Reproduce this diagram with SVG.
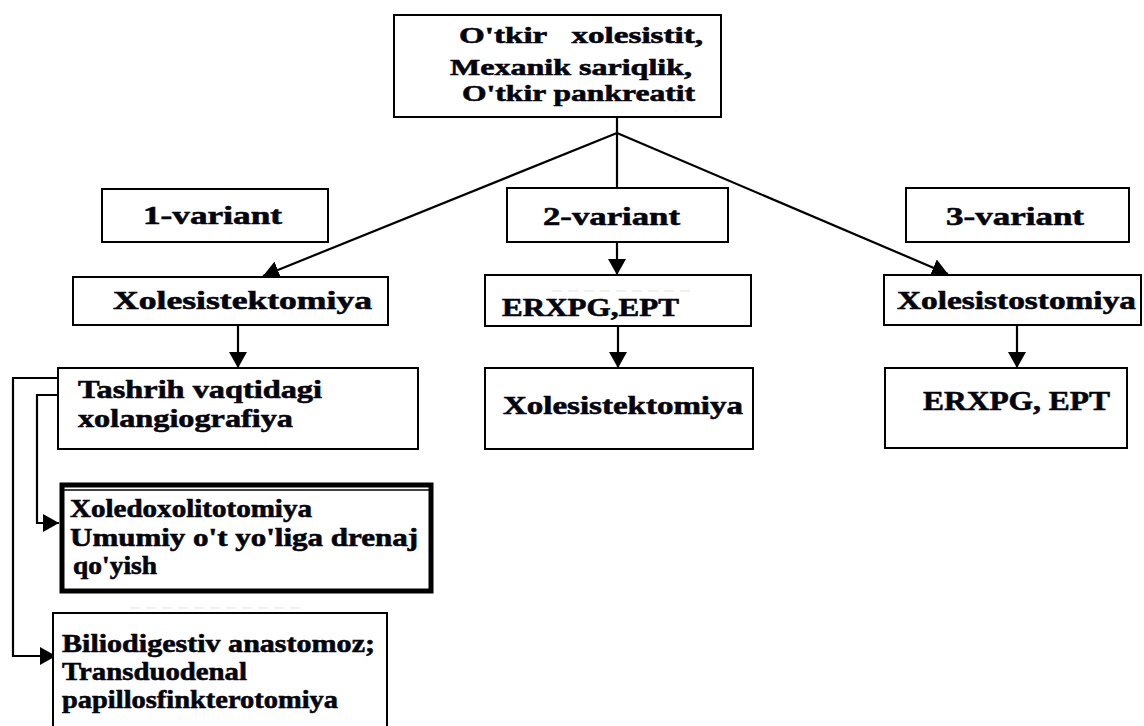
<svg xmlns="http://www.w3.org/2000/svg" width="1144" height="726" viewBox="0 0 1144 726">
  <defs>
    <marker id="arrow" viewBox="0 0 16 18" refX="16" refY="9" markerWidth="16" markerHeight="18" markerUnits="userSpaceOnUse" orient="auto">
      <path d="M0,0 L16,9 L0,18 Z" fill="#000"/>
    </marker>
    <style>
      .box { fill: #fff; stroke: #000; stroke-width: 2; }
      .thick { fill: #fff; stroke: #000; stroke-width: 5; }
      .lbl { font-family: "Liberation Serif", "Times New Roman", serif; font-weight: bold; font-size: 26px; fill: #05050f; stroke: #05050f; stroke-width: 0.6; }
      .top { font-size: 24px; }
      .mid { font-size: 25px; }
      .big { font-size: 28px; }
      .line { fill: none; stroke: #000; stroke-width: 2.2; }
      .arr { fill: none; stroke: #000; stroke-width: 2.2; marker-end: url(#arrow); }
      .faint { fill: none; stroke: #e2e2e2; stroke-width: 1.2; stroke-dasharray: 10 6; }
    </style>
  </defs>
  <rect width="1144" height="726" fill="#fff"/>

  <!-- connectors -->
  <g id="connectors">
    <polyline class="line" points="617,117 617,133"/>
    <line class="arr" x1="617" y1="133" x2="263" y2="276"/>
    <line class="arr" x1="617" y1="133" x2="617" y2="275"/>
    <line class="arr" x1="617" y1="133" x2="948" y2="274"/>
    <line class="arr" x1="238" y1="325" x2="238" y2="368"/>
    <line class="arr" x1="618" y1="326" x2="618" y2="368"/>
    <line class="arr" x1="1017" y1="325" x2="1017" y2="368"/>
    <polyline class="arr" points="58,378 13,378 13,656 56,656"/>
    <polyline class="arr" points="58,395 37,395 37,523 59,523"/>
  </g>

  <!-- source node -->
  <g id="n-diagnoz">
    <rect class="box" x="394" y="15" width="327" height="102"/>
    <text class="lbl top" x="459" y="43" textLength="244" lengthAdjust="spacingAndGlyphs" xml:space="preserve">O'tkir   xolesistit,</text>
    <text class="lbl top" x="450" y="75" textLength="242" lengthAdjust="spacingAndGlyphs">Mexanik sariqlik,</text>
    <text class="lbl top" x="462" y="101" textLength="233" lengthAdjust="spacingAndGlyphs">O'tkir pankreatit</text>
  </g>

  <!-- variant headers -->
  <g id="v1">
    <rect class="box" x="102" y="189" width="226" height="53"/>
    <text class="lbl" x="143" y="224" textLength="139" lengthAdjust="spacingAndGlyphs">1-variant</text>
  </g>
  <g id="v2">
    <rect class="box" x="507" y="188" width="221" height="54"/>
    <text class="lbl" x="543" y="225" textLength="137" lengthAdjust="spacingAndGlyphs">2-variant</text>
  </g>
  <g id="v3">
    <rect class="box" x="906" y="188" width="223" height="54"/>
    <text class="lbl" x="946" y="225" textLength="138" lengthAdjust="spacingAndGlyphs">3-variant</text>
  </g>

  <!-- variant 1 -->
  <g id="v1-xolesistektomiya">
    <rect class="box" x="73" y="277" width="315" height="48"/>
    <text class="lbl" x="113" y="309" textLength="259" lengthAdjust="spacingAndGlyphs">Xolesistektomiya</text>
  </g>
  <g id="v1-xolangiografiya">
    <rect class="box" x="58" y="368" width="360" height="81"/>
    <text class="lbl" x="78" y="398" textLength="244" lengthAdjust="spacingAndGlyphs">Tashrih vaqtidagi</text>
    <text class="lbl" x="78" y="427" textLength="215" lengthAdjust="spacingAndGlyphs">xolangiografiya</text>
  </g>
  <g id="v1-xoledoxolitotomiya">
    <rect class="thick" x="62" y="485" width="369" height="106"/>
    <line x1="64" y1="490" x2="429" y2="490" stroke="#000" stroke-width="1.5"/>
    <text class="lbl mid" x="70" y="517" textLength="242" lengthAdjust="spacingAndGlyphs">Xoledoxolitotomiya</text>
    <text class="lbl mid" x="70" y="546" textLength="348" lengthAdjust="spacingAndGlyphs">Umumiy o't yo'liga drenaj</text>
    <text class="lbl mid" x="73" y="574" textLength="84" lengthAdjust="spacingAndGlyphs">qo'yish</text>
  </g>
  <g id="v1-biliodigestiv">
    <rect class="box" x="53" y="613" width="334" height="120"/>
    <line class="faint" x1="130" y1="608" x2="300" y2="608"/>
    <text class="lbl" x="62" y="652" textLength="313" lengthAdjust="spacingAndGlyphs">Biliodigestiv anastomoz;</text>
    <text class="lbl" x="62" y="680" textLength="185" lengthAdjust="spacingAndGlyphs">Transduodenal</text>
    <text class="lbl" x="62" y="708" textLength="276" lengthAdjust="spacingAndGlyphs">papillosfinkterotomiya</text>
  </g>

  <!-- variant 2 -->
  <g id="v2-erxpg">
    <rect class="box" x="485" y="275" width="266" height="51"/>
    <line class="faint" x1="552" y1="291" x2="692" y2="291"/>
    <text class="lbl" x="502" y="316" textLength="177" lengthAdjust="spacingAndGlyphs">ERXPG,EPT</text>
  </g>
  <g id="v2-xolesistektomiya">
    <rect class="box" x="485" y="368" width="268" height="81"/>
    <text class="lbl" x="503" y="414" textLength="240" lengthAdjust="spacingAndGlyphs">Xolesistektomiya</text>
  </g>

  <!-- variant 3 -->
  <g id="v3-xolesistostomiya">
    <rect class="box" x="884" y="275" width="257" height="50"/>
    <text class="lbl" x="897" y="309" textLength="239" lengthAdjust="spacingAndGlyphs">Xolesistostomiya</text>
  </g>
  <g id="v3-erxpg">
    <rect class="box" x="885" y="368" width="242" height="80"/>
    <text class="lbl big" x="923" y="410" textLength="187" lengthAdjust="spacingAndGlyphs">ERXPG, EPT</text>
  </g>
</svg>
